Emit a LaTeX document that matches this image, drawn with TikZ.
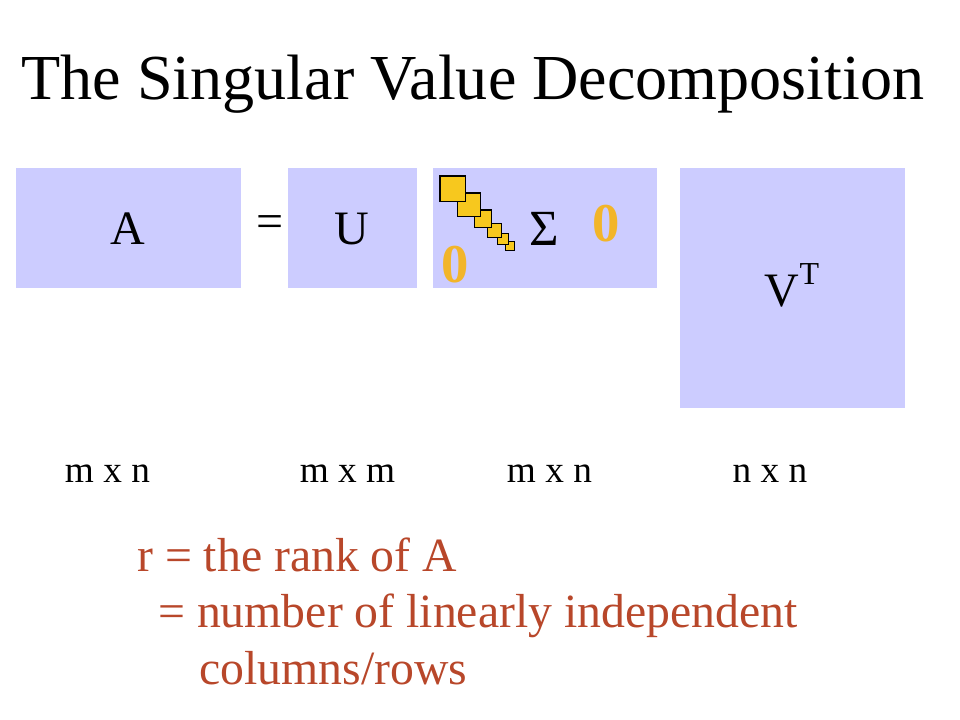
\documentclass[tikz,border=0pt]{standalone}
\usepackage{fontspec}
\setmainfont{Liberation Serif}
\definecolor{boxblue}{HTML}{CCCCFF}
\definecolor{sqgold}{HTML}{F7C81E}
\definecolor{zerogold}{HTML}{F2B52A}
\definecolor{rankred}{HTML}{B8472A}
\begin{document}
\begin{tikzpicture}[x=0.75pt,y=-0.75pt,
  matbox/.style={fill=boxblue,draw=none},
  sq/.style={fill=sqgold,draw=black,line width=0.9pt},
  bigletter/.style={anchor=base,inner sep=0pt,font=\fontsize{36}{40}\selectfont},
  zero/.style={anchor=base,inner sep=0pt,text=zerogold,font=\fontsize{41}{44}\selectfont\bfseries},
  dimlabel/.style={anchor=base,inner sep=0pt,font=\fontsize{28}{32}\selectfont},
  ranktext/.style={anchor=base west,inner sep=0pt,text=rankred,font=\fontsize{35.8}{40}\selectfont}]
\useasboundingbox (0,0) rectangle (960,720);
\fill[white] (0,0) rectangle (960,720);
% title
\node[anchor=base west,inner sep=0pt,font=\fontsize{48.1}{52}\selectfont] (title) at (21,100) {The Singular Value Decomposition};
% boxes
\fill[matbox] (16,168) rectangle (241,288);
\fill[matbox] (288,168) rectangle (417,288);
\fill[matbox] (433,168) rectangle (657,288);
\fill[matbox] (680,168) rectangle (905,408);
% letters
\node[bigletter] (A) at (128,245) {A};
\node[bigletter] (eq) at (270,238) {=};
\node[bigletter] (U) at (352,245) {U};
\node[bigletter,font=\fontsize{38}{42}\selectfont] (S) at (544,246) {Σ};
\node[bigletter] (V) at (792,306) {V\raisebox{0.45em}{\fontsize{24}{26}\selectfont T}};
% diagonal squares
\draw[sq] (505.3,241.3) rectangle (514.7,250.7);
\draw[sq] (497.3,233.3) rectangle (508.7,244.7);
\draw[sq] (487.3,223.3) rectangle (501.3,237.3);
\draw[sq] (474.3,210) rectangle (491.7,227.7);
\draw[sq] (457.3,193) rectangle (480.7,216.3);
\draw[sq] (440,176) rectangle (465.7,201.3);
% zeros
\node[zero] (z1) at (606,242) {0};
\node[zero] (z2) at (455,282) {0};
% dimensions
\node[dimlabel] (d1) at (107.5,482) {m x n};
\node[dimlabel] (d2) at (347.5,482) {m x m};
\node[dimlabel] (d3) at (549.5,482) {m x n};
\node[dimlabel] (d4) at (770,482) {n x n};
% rank text
\node[ranktext] (r1) at (137,571) {r = the rank of A};
\node[ranktext] (r2) at (158,627) {= number of linearly independent};
\node[ranktext] (r3) at (199,684) {columns/rows};
\end{tikzpicture}
\end{document}
